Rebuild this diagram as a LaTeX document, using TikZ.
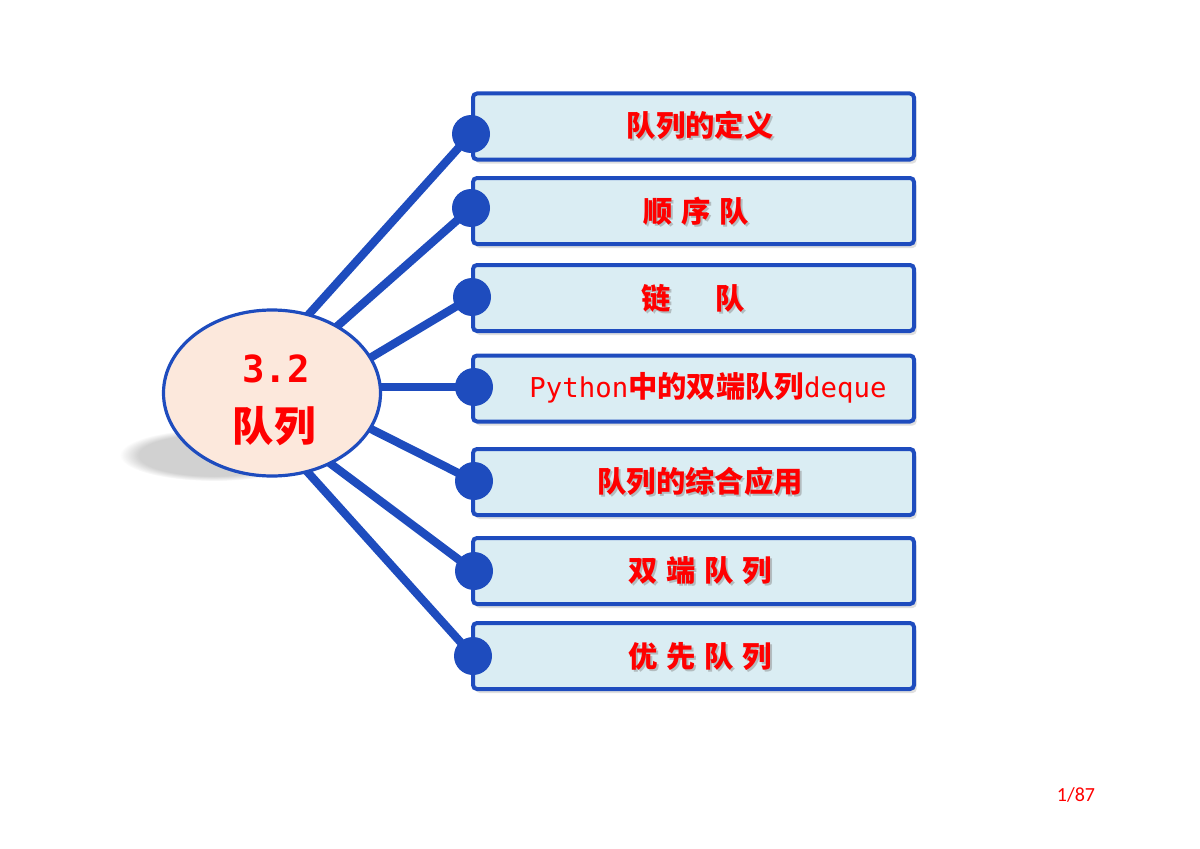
\documentclass[tikz,border=0pt]{standalone}
\usepackage{fontspec}
\newfontfamily\cjk{Noto Sans CJK SC}
\newfontfamily\mono{DejaVu Sans Mono}
\newfontfamily\pagefont{Carlito}
\usetikzlibrary{shapes.geometric,shadows,fadings}
\definecolor{qblue}{RGB}{30,76,190}
\definecolor{qbox}{RGB}{218,237,243}
\definecolor{qell}{RGB}{252,232,220}
\definecolor{qred}{RGB}{255,0,0}
\tikzset{
  itembox/.style={draw=qblue, line width=3pt, fill=qbox, rounded corners=3pt,
    minimum width=330.75pt, minimum height=49.5pt, inner sep=0pt,
    drop shadow={shadow xshift=2pt, shadow yshift=-3pt, opacity=0.25, fill=gray}},
  dotnode/.style={circle, fill=qblue, minimum size=28.5pt, inner sep=0pt},
  conn/.style={draw=qblue, line width=6.2pt, shorten <=-14pt},
  lbl/.style={text=qred, font=\cjk\bfseries\fontsize{22}{26}\selectfont, inner sep=0pt},
  lblshadow/.style={text=black!45, opacity=0.5, font=\cjk\bfseries\fontsize{22}{26}\selectfont, inner sep=0pt},
}
\newcommand{\pyline}{{\mono\fontsize{20.5}{26}\selectfont Python}{\cjk\bfseries 中的双端队列}{\mono\fontsize{20.5}{26}\selectfont deque}}
\begin{document}
\begin{tikzpicture}[x=0.75pt,y=-0.75pt]
\useasboundingbox (0,0) rectangle (1200,849);
% soft shadow under ellipse
\fill[black!60, opacity=0.3, path fading=circle with fuzzy edge 20 percent] (214,455) ellipse (94 and 26);
% ellipse anchor points
\coordinate (e1) at (310,313);
\coordinate (e2) at (342,322);
\coordinate (e3) at (375,355);
\coordinate (e4) at (378,387);
\coordinate (e5) at (373,430);
\coordinate (e6) at (335,467);
\coordinate (e7) at (312,477);
% boxes
\node[itembox] (b1) at (693.5,126.5) {};
\node[itembox] (b2) at (693.5,211) {};
\node[itembox] (b3) at (693.5,298) {};
\node[itembox] (b4) at (693.5,388.5) {};
\node[itembox] (b5) at (693.5,482) {};
\node[itembox] (b6) at (693.5,571) {};
\node[itembox] (b7) at (693.5,656) {};
% dots
\node[dotnode] (d1) at (471,134) {};
\node[dotnode] (d2) at (471,208) {};
\node[dotnode] (d3) at (472,297) {};
\node[dotnode] (d4) at (474,387) {};
\node[dotnode] (d5) at (474,481) {};
\node[dotnode] (d6) at (474,571) {};
\node[dotnode] (d7) at (473,656) {};
% connectors
\draw[conn] (e1) -- (d1.center);
\draw[conn] (e2) -- (d2.center);
\draw[conn] (e3) -- (d3.center);
\draw[conn] (e4) -- (d4.center);
\draw[conn] (e5) -- (d5.center);
\draw[conn] (e6) -- (d6.center);
\draw[conn] (e7) -- (d7.center);
% ellipse
\node[ellipse, draw=qblue, line width=2.4pt, fill=qell, minimum width=162.75pt, minimum height=124.5pt] (el) at (272,393) {};
\node[text=qred, font=\mono\bfseries\fontsize{28}{32}\selectfont, inner sep=0pt] (t32) at (276,369) {3.2};
\node[text=qred, font=\cjk\bfseries\fontsize{31}{36}\selectfont, inner sep=0pt] (tql) at (274,426) {队列};
% labels with shadows
\node[lblshadow] (s1) at (702,127) {队列的定义};
\node[lbl] (l1) at (700,125) {队列的定义};
\node[lblshadow] (s2) at (698,213) {顺\hspace{0.3em}序\hspace{0.3em}队};
\node[lbl] (l2) at (696,211) {顺\hspace{0.3em}序\hspace{0.3em}队};
\node[lblshadow] (s3) at (695,300) {链\hspace{1.5em}队};
\node[lbl] (l3) at (693,298) {链\hspace{1.5em}队};
\node[text=qred, inner sep=0pt, font=\cjk\fontsize{22}{26}\selectfont] (l4) at (708,388) {\pyline};
\node[lblshadow] (s5) at (702,483) {队列的综合应用};
\node[lbl] (l5) at (700,481) {队列的综合应用};
\node[lblshadow] (s6) at (702,573) {双\hspace{0.3em}端\hspace{0.3em}队\hspace{0.3em}列};
\node[lbl] (l6) at (700,571) {双\hspace{0.3em}端\hspace{0.3em}队\hspace{0.3em}列};
\node[lblshadow] (s7) at (702,658) {优\hspace{0.3em}先\hspace{0.3em}队\hspace{0.3em}列};
\node[lbl] (l7) at (700,656) {优\hspace{0.3em}先\hspace{0.3em}队\hspace{0.3em}列};
% page number
\node[text=qred, font=\pagefont\fontsize{15}{17}\selectfont, inner sep=0pt] (pg) at (1076,795) {1/87};
\end{tikzpicture}
\end{document}
